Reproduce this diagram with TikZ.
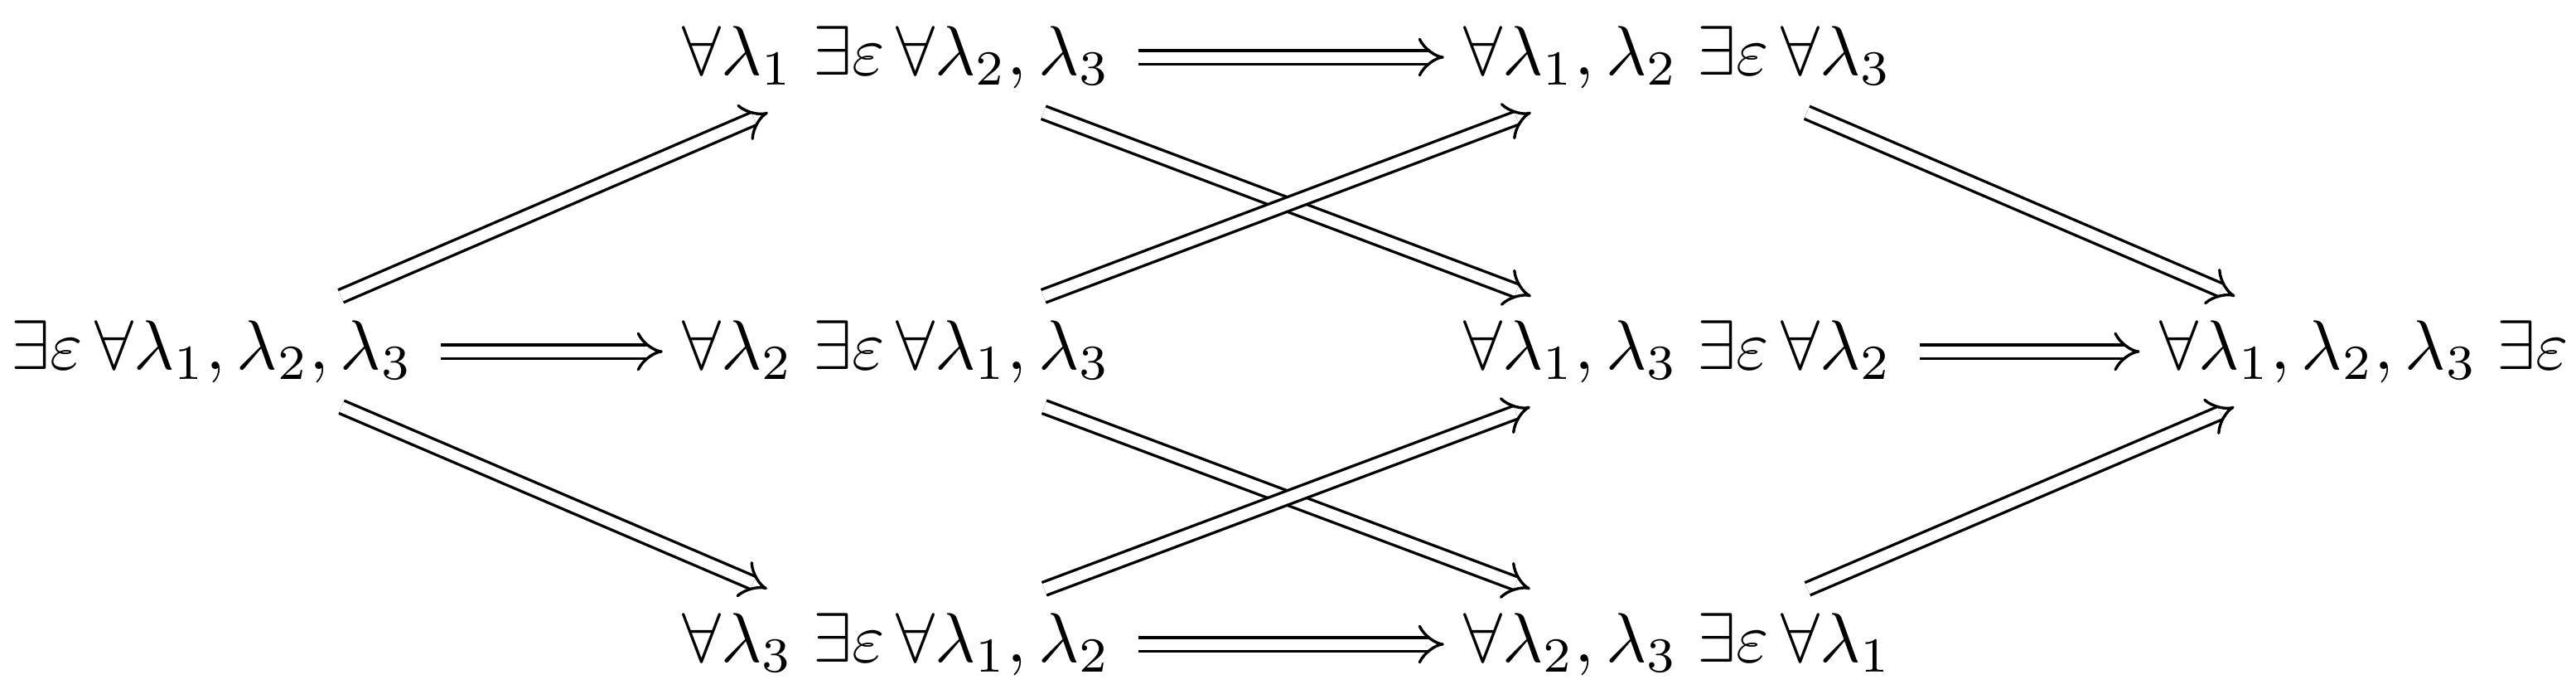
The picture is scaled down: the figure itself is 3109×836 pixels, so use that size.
\documentclass[tikz,border=0pt]{standalone}
\usetikzlibrary{arrows.meta}
\begin{document}
\begin{tikzpicture}[x=0.11834pt,y=-0.11834pt,
  cell/.style={inner xsep=4pt, inner ysep=3.4pt, text height=7pt, text depth=2pt, outer sep=0pt},
  imp/.style={double, double equal sign distance, line width=0.4pt, -{Implies}},
  himp/.style={imp, shorten >=-1.2pt}]
\useasboundingbox (0,0) rectangle (3109,836);
\node[cell] (a)  at (256,424)  {$\exists\varepsilon\,\forall\lambda_1,\lambda_2,\lambda_3$};
\node[cell] (b1) at (1082,69)  {$\forall\lambda_1\;\exists\varepsilon\,\forall\lambda_2,\lambda_3$};
\node[cell] (b2) at (1082,424) {$\forall\lambda_2\;\exists\varepsilon\,\forall\lambda_1,\lambda_3$};
\node[cell] (b3) at (1082,777) {$\forall\lambda_3\;\exists\varepsilon\,\forall\lambda_1,\lambda_2$};
\node[cell] (c1) at (2025,69)  {$\forall\lambda_1,\lambda_2\;\exists\varepsilon\,\forall\lambda_3$};
\node[cell] (c2) at (2025,424) {$\forall\lambda_1,\lambda_3\;\exists\varepsilon\,\forall\lambda_2$};
\node[cell] (c3) at (2025,777) {$\forall\lambda_2,\lambda_3\;\exists\varepsilon\,\forall\lambda_1$};
\node[cell] (d)  at (2853,424) {$\forall\lambda_1,\lambda_2,\lambda_3\;\exists\varepsilon$};
\draw[imp] (a) -- (b1);
\draw[himp] (a) -- (b2);
\draw[imp] (a) -- (b3);
\draw[himp] (b1) -- (c1);
\draw[imp] (b1) -- (c2);
\draw[imp] (b2) -- (c1);
\draw[imp] (b2) -- (c3);
\draw[imp] (b3) -- (c2);
\draw[himp] (b3) -- (c3);
\draw[imp] (c1) -- (d);
\draw[himp] (c2) -- (d);
\draw[imp] (c3) -- (d);
\end{tikzpicture}
\end{document}
